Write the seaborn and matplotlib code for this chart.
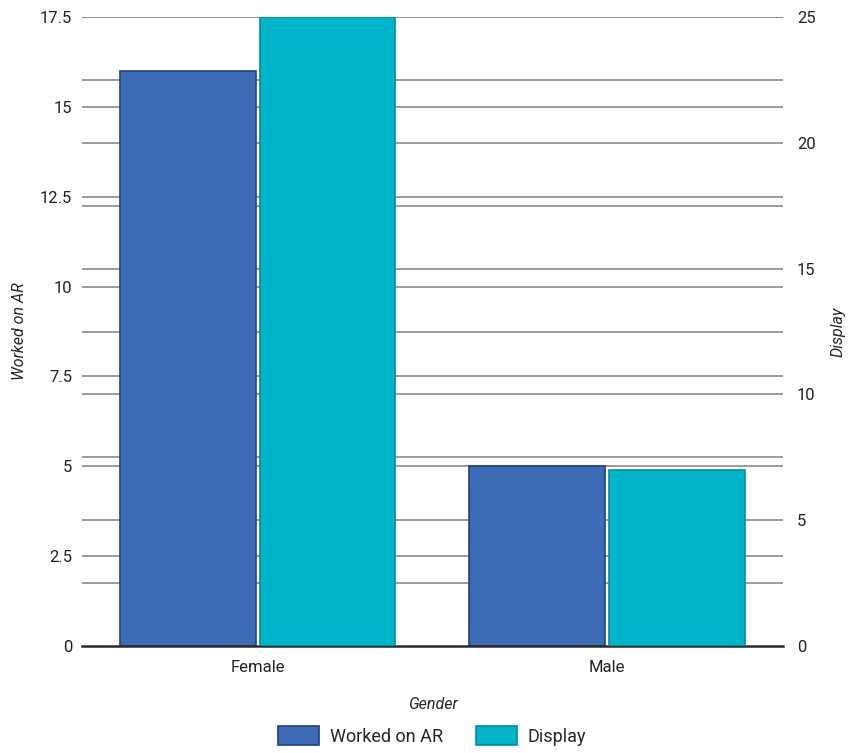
import matplotlib
matplotlib.use("Agg")
import matplotlib.pyplot as plt
from matplotlib.patches import Patch
from matplotlib.transforms import blended_transform_factory
import numpy as np
import pandas as pd
import seaborn as sns

# Data
genders = ["Female", "Male"]
worked_on_ar = [16, 5]
display = [25, 7]
series_names = ["Worked on AR", "Display"]

left_ticks = [0, 2.5, 5, 7.5, 10, 12.5, 15, 17.5]
right_major = [0, 5, 10, 15, 20, 25]
right_minor = [2.5, 7.5, 12.5, 17.5, 22.5]

sns.set_theme(style="white")
plt.rcParams["font.family"] = ["Roboto", "DejaVu Sans"]

colors = {"Worked on AR": "#3d6cb6", "Display": "#00b5c9"}
edges = {"Worked on AR": "#25407e", "Display": "#0a8a9b"}

df_ar = pd.DataFrame({"Gender": genders, "value": worked_on_ar, "series": "Worked on AR"})
df_disp = pd.DataFrame({"Gender": genders, "value": display, "series": "Display"})

fig = plt.figure(figsize=(8.52, 7.53), dpi=100)
ax = fig.add_axes([0.0962, 0.1421, 0.8228, 0.8353])
ax2 = ax.twinx()

# Left axis: Worked on AR
sns.barplot(data=df_ar, x="Gender", y="value", hue="series", hue_order=series_names,
            order=genders, palette=colors, saturation=1, dodge=True,
            edgecolor=edges["Worked on AR"], linewidth=1.2,
            gap=0.03, legend=False, ax=ax, zorder=2)
# Right axis: Display
sns.barplot(data=df_disp, x="Gender", y="value", hue="series", hue_order=series_names,
            order=genders, palette=colors, saturation=1, dodge=True,
            edgecolor=edges["Display"], linewidth=1.2,
            gap=0.03, legend=False, ax=ax2, zorder=2)

ax.set_ylim(0, 17.5)
ax2.set_ylim(0, 25)
ax.set_xlim(-0.504, 1.504)

ax.set_yticks(left_ticks)
ax.set_yticklabels([f"{t:g}" for t in left_ticks])
ax2.set_yticks(right_major)
ax2.set_yticklabels([f"{t:g}" for t in right_major])

# Gridlines for both scales, kept beneath the bars
grid_kw = dict(color="#8a8a8a", lw=1.2, zorder=0.5)
for t in left_ticks[1:]:
    ax.axhline(t, **grid_kw)
trans_r = blended_transform_factory(ax.transAxes, ax2.transData)
for t in right_major[1:] + right_minor:
    ax.plot([0, 1], [t, t], transform=trans_r, **grid_kw)

for a in (ax, ax2):
    for s in ("top", "left", "right"):
        a.spines[s].set_visible(False)
    a.grid(False)
    a.tick_params(axis="both", length=0, labelsize=12, colors="#222222")
ax2.spines["bottom"].set_visible(False)
ax.spines["bottom"].set_color("#2b2b2b")
ax.spines["bottom"].set_linewidth(1.8)
ax.spines["bottom"].set_zorder(3)
ax.tick_params(axis="y", pad=7)
ax2.tick_params(axis="y", pad=10)
ax.tick_params(axis="x", pad=10)

ax.set_ylabel("Worked on AR", fontsize=11.5, style="italic", labelpad=9)
ax2.set_ylabel("Display", fontsize=11.5, style="italic", labelpad=11)
ax.set_xlabel("Gender", fontsize=11.5, style="italic", labelpad=16)
ax2.set_xlabel("")

handles = [Patch(facecolor=colors[n], edgecolor=edges[n], linewidth=1.2, label=n) for n in series_names]
fig.legend(handles=handles, loc="lower center", bbox_to_anchor=(0.507, -0.012), ncol=2,
           frameon=False, fontsize=13, handlelength=2.3, handleheight=1.2,
           columnspacing=1.8, handletextpad=0.6)

fig.savefig("out.png", dpi=100, facecolor="white")
